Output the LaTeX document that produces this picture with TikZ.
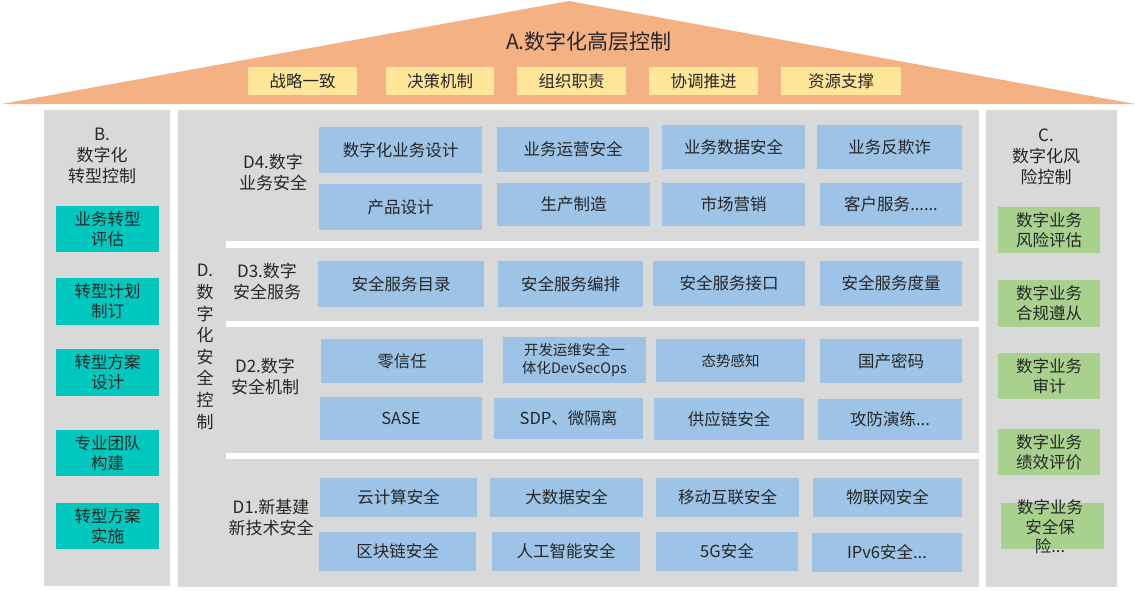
\documentclass[tikz,border=0pt]{standalone}
\usepackage{fontspec}
\setmainfont{Noto Sans CJK SC}
\definecolor{roof}{HTML}{F4B183}
\definecolor{ylw}{HTML}{FFE699}
\definecolor{pnl}{HTML}{D9D9D9}
\definecolor{blu}{HTML}{9DC3E6}
\definecolor{tea}{HTML}{00C8BE}
\definecolor{grn}{HTML}{A9D18E}
\definecolor{txt}{HTML}{262626}
\tikzset{
  base/.style={inner sep=0pt, outer sep=0pt, align=center, text=txt, font=\fontsize{16.5}{20}\selectfont},
  bluebox/.style={base, fill=blu},
  ylwbox/.style={base, fill=ylw},
  teabox/.style={base, fill=tea},
  grnbox/.style={base, fill=grn},
  lbl/.style={inner sep=0pt, outer sep=0pt, align=center, text=txt, font=\fontsize{17}{21}\selectfont},
  panel/.style={fill=pnl},
  sep/.style={fill=white}
}
% #1 style, #2 name, #3 x1, #4 y1, #5 x2, #6 y2, #7 text
\newcommand\bx[7]{%
  \node[#1, minimum width={(#5-#3)*1pt}, minimum height={(#6-#4)*1pt}] (#2) at ({(#3+#5)/2},{(#4+#6)/2}) {#7};}
\begin{document}
\begin{tikzpicture}[x=1pt, y=-1pt]
\useasboundingbox (0,0) rectangle (1135,590);
% roof
\fill[roof] (2,104) -- (569,1) -- (1135,104) -- cycle;
\node[lbl, font=\fontsize{21}{24}\selectfont] (A) at (589,42) {A.数字化高层控制};
\bx{ylwbox}{a1}{248}{67}{357}{95}{战略一致}
\bx{ylwbox}{a2}{386}{67}{494}{95}{决策机制}
\bx{ylwbox}{a3}{517}{67}{626}{95}{组织职责}
\bx{ylwbox}{a4}{649}{67}{758}{95}{协调推进}
\bx{ylwbox}{a5}{781}{67}{901}{95}{资源支撑}
% panels
\fill[panel] (44,110) rectangle (170,586);
\fill[panel] (178,110) rectangle (979,587);
\fill[panel] (986,110) rectangle (1117,587);
\fill[sep] (226,241) rectangle (979,248);
\fill[sep] (226,321) rectangle (979,327);
\fill[sep] (226,453) rectangle (979,459);
% B
\node[lbl] (B) at (102,156) {B.\\数字化\\转型控制};
\bx{teabox}{b1}{56}{206}{159}{252}{业务转型\\评估}
\bx{teabox}{b2}{56}{278}{159}{325}{转型计划\\制订}
\bx{teabox}{b3}{56}{349}{159}{396}{转型方案\\设计}
\bx{teabox}{b4}{56}{430}{159}{476}{专业团队\\构建}
\bx{teabox}{b5}{56}{503}{159}{549}{转型方案\\实施}
% C
\node[lbl] (C) at (1046,157) {C.\\数字化风\\险控制};
\bx{grnbox}{c1}{998}{207}{1100}{253}{数字业务\\风险评估}
\bx{grnbox}{c2}{998}{280}{1100}{327}{数字业务\\合规遵从}
\bx{grnbox}{c3}{998}{353}{1100}{399}{数字业务\\审计}
\bx{grnbox}{c4}{998}{429}{1100}{475}{数字业务\\绩效评价}
\bx{grnbox}{c5}{1001}{503}{1104}{549}{}
\node[lbl, font=\fontsize{16.5}{19.5}\selectfont] (c5t) at (1050,527) {数字业务\\安全保\\险...};
% D labels
\node[lbl, font=\fontsize{17}{21.6}\selectfont] (D) at (205,347) {D.\\数\\字\\化\\安\\全\\控\\制};
\node[lbl] (D4) at (273,172) {D4.数字\\业务安全};
\node[lbl] (D3) at (267,281) {D3.数字\\安全服务};
\node[lbl] (D2) at (265,376) {D2.数字\\安全机制};
\node[lbl] (D1) at (271,518) {D1.新基建\\新技术安全};
% D4
\bx{bluebox}{d41}{319}{127}{482}{173}{数字化业务设计}
\bx{bluebox}{d42}{497}{127}{649}{172}{业务运营安全}
\bx{bluebox}{d43}{662}{125}{805}{169}{业务数据安全}
\bx{bluebox}{d44}{817}{125}{962}{169}{业务反欺诈}
\bx{bluebox}{d45}{319}{184}{482}{230}{产品设计}
\bx{bluebox}{d46}{497}{183}{650}{226}{生产制造}
\bx{bluebox}{d47}{662}{183}{805}{226}{市场营销}
\bx{bluebox}{d48}{820}{183}{962}{226}{客户服务......}
% D3
\bx{bluebox}{d31}{318}{261}{484}{307}{安全服务目录}
\bx{bluebox}{d32}{498}{261}{643}{307}{安全服务编排}
\bx{bluebox}{d33}{653}{261}{805}{306}{安全服务接口}
\bx{bluebox}{d34}{820}{261}{962}{306}{安全服务度量}
% D2
\bx{bluebox}{d21}{321}{339}{483}{383}{零信任}
\node[bluebox, font=\fontsize{14.4}{18}\selectfont, minimum width=143pt, minimum height=46pt] (d22) at (574.5,360) {开发运维安全一\\体化DevSecOps};
\node[bluebox, font=\fontsize{14.5}{18}\selectfont, minimum width=149pt, minimum height=43pt] (d23) at (730.5,360.5) {态势感知};
\bx{bluebox}{d24}{820}{339}{962}{383}{国产密码}
\bx{bluebox}{d25}{320}{397}{482}{440}{SASE}
\bx{bluebox}{d26}{494}{398}{643}{439}{SDP、微隔离}
\bx{bluebox}{d27}{654}{398}{804}{440}{供应链安全}
\bx{bluebox}{d28}{818}{399}{962}{440}{攻防演练...}
% D1
\bx{bluebox}{d11}{320}{478}{477}{517}{云计算安全}
\bx{bluebox}{d12}{490}{478}{643}{517}{大数据安全}
\bx{bluebox}{d13}{656}{478}{799}{517}{移动互联安全}
\bx{bluebox}{d14}{813}{478}{962}{517}{物联网安全}
\bx{bluebox}{d15}{319}{532}{476}{571}{区块链安全}
\bx{bluebox}{d16}{492}{532}{640}{571}{人工智能安全}
\bx{bluebox}{d17}{656}{532}{798}{571}{5G安全}
\bx{bluebox}{d18}{812}{533}{962}{572}{IPv6安全...}
\end{tikzpicture}
\end{document}
